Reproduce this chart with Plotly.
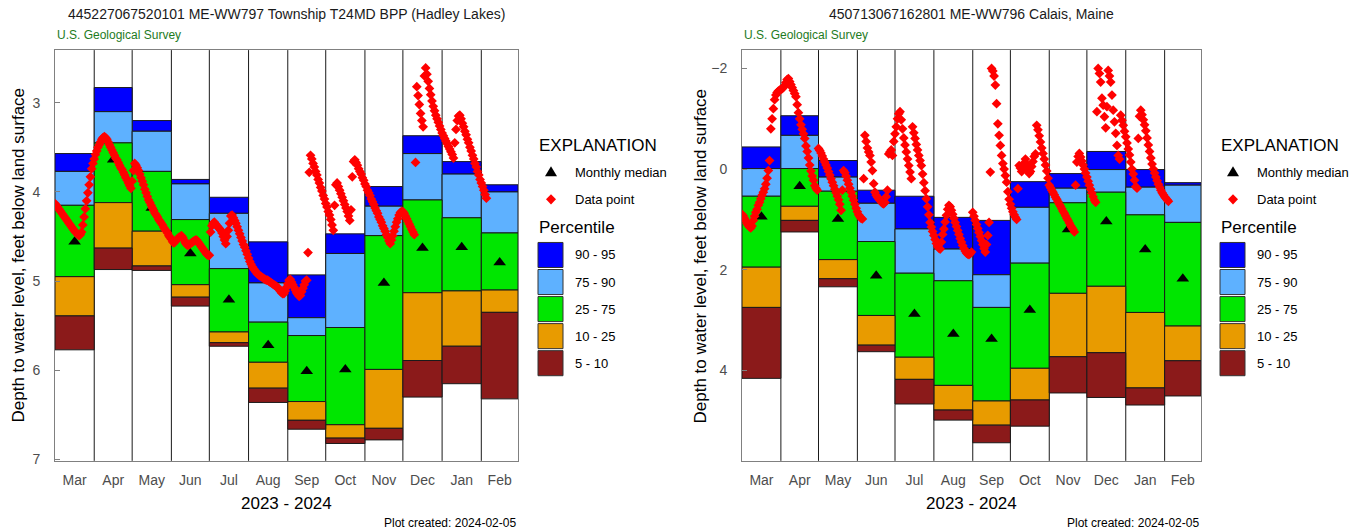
import pandas as pd
import plotly.graph_objects as go

# Reference picture size (all layout positions below are given in its pixels)
REF_W, REF_H = 1356, 531
# Figure size: the window photographed is 539 px tall and squeezed to 531,
# so the figure fills 1356 x 539 and every position is kept as a fraction.
W, H = 1356, 539
FONT = "Liberation Sans, Arial, sans-serif"

# ---------------- shared categories ----------------
month_labels = ["Mar", "Apr", "May", "Jun", "Jul", "Aug", "Sep", "Oct", "Nov", "Dec", "Jan", "Feb"]
month_edges = pd.date_range("2023-03-01", "2024-03-01", freq="MS")  # 13 edges
year_label = "2023 - 2024"
created_label = "Plot created: 2024-02-05"
agency_label = "U.S. Geological Survey"
y_title = "Depth to water level, feet below land surface"

# ---------------- left well ----------------
left_title = "445227067520101 ME-WW797 Township T24MD BPP (Hadley Lakes)"
left_yticks = [3, 4, 5, 6, 7]
left_yrange = [7.015, 2.41]
left_p95 = [3.57, 2.83, 3.20, 3.86, 4.06, 4.56, 4.93, 4.47, 3.94, 3.37, 3.66, 3.92]
left_p90 = [3.77, 3.10, 3.32, 3.91, 4.24, 5.02, 5.41, 4.69, 4.16, 3.57, 3.80, 4.00]
left_p75 = [4.15, 3.45, 3.77, 4.31, 4.86, 5.46, 5.61, 5.52, 4.49, 4.09, 4.29, 4.46]
left_p25 = [4.95, 4.12, 4.44, 5.04, 5.57, 5.91, 6.35, 6.61, 5.99, 5.13, 5.11, 5.10]
left_p10 = [5.39, 4.63, 4.83, 5.18, 5.69, 6.20, 6.56, 6.76, 6.65, 5.89, 5.73, 5.35]
left_p05 = [5.77, 4.87, 4.88, 5.28, 5.73, 6.36, 6.66, 6.82, 6.78, 6.30, 6.15, 6.32]
left_median = [4.56, 3.64, 4.18, 4.69, 5.21, 5.72, 6.01, 5.99, 5.02, 4.63, 4.62, 4.79]
left_daily = [
    # Mar
    4.13, 4.15, 4.17, 4.19, 4.21, 4.23, 4.25, 4.27, 4.29, 4.31, 4.33, 4.35, 4.37, 4.39, 4.41, 4.43,
    4.45, 4.46, 4.48, 4.49, 4.48, 4.45, 4.37, 4.28, 4.19, 4.10, 4.01, 3.92, 3.83, 3.74, 3.68,
    # Apr
    3.63, 3.58, 3.54, 3.50, 3.47, 3.44, 3.41, 3.39, 3.38, 3.39, 3.41, 3.44, 3.47, 3.50, 3.53,
    3.56, 3.59, 3.62, 3.64, 3.67, 3.70, 3.73, 3.75, 3.78, 3.81, 3.84, 3.87, 3.90, 3.93, 3.96,
    # May
    3.88, 3.76, 3.68, 3.70, 3.73, 3.76, 3.80, 3.84, 3.88, 3.92, 3.97, 4.01, 4.05, 4.09, 4.12, 4.15,
    4.18, 4.21, 4.24, 4.26, 4.28, 4.31, 4.33, 4.35, 4.37, 4.40, 4.42, 4.44, 4.46, 4.49, 4.51,
    # Jun
    4.53, 4.56, 4.57, 4.56, 4.54, 4.52, 4.51, 4.50, 4.49, 4.51, 4.54, 4.57, 4.59, 4.60, 4.59,
    4.58, 4.57, 4.56, 4.55, 4.54, 4.54, 4.56, 4.58, 4.60, 4.62, 4.64, 4.66, 4.68, 4.70, 4.71,
    # Jul
    4.71, 4.45, 4.38, 4.35, 4.34, 4.36, 4.38, 4.40, 4.41, 4.43, 4.46, 4.50, 4.54, 4.58, 4.50, 4.43,
    4.35, 4.27, 4.26, 4.29, 4.32, 4.35, 4.39, 4.43, 4.47, 4.51, 4.55, 4.59, 4.62, 4.66, 4.70,
    # Aug
    4.74, 4.78, 4.81, 4.84, 4.86, 4.88, 4.90, 4.92, 4.93, 4.94, 4.95, 4.96, 4.97, 4.98, 4.99, 4.99,
    5.00, 5.01, 5.02, 5.03, 5.04, 5.05, 5.06, 5.07, 5.09, 5.11, 5.13, 5.14, 5.14, 5.11, 5.07,
    # Sep
    5.03, 4.99, 4.98, 5.01, 5.04, 5.07, 5.10, 5.13, 5.15, 5.17, 5.16, 5.12, 5.08, 5.04, 5.00,
    4.99, 4.68, 3.78, 3.59, 3.63, 3.68, 3.72, 3.77, 3.81, 3.86, 3.90, 3.95, 3.99, 4.04, 4.08,
    # Oct
    4.13, 4.17, 4.22, 4.26, 4.31, 4.37, 4.43, 4.15, 3.92, 3.90, 3.94, 3.98, 4.02, 4.06, 4.10, 4.14,
    4.18, 4.22, 4.27, 4.32, 4.20, 3.83, 3.66, 3.64, 3.67, 3.70, 3.74, 3.77, 3.80, 3.84, 3.87,
    # Nov
    3.91, 3.94, 3.98, 4.01, 4.04, 4.08, 4.11, 4.14, 4.18, 4.21, 4.24, 4.28, 4.31, 4.34, 4.38,
    4.41, 4.44, 4.48, 4.51, 4.55, 4.58, 4.54, 4.49, 4.44, 4.39, 4.34, 4.30, 4.26, 4.23, 4.22,
    # Dec
    4.22, 4.24, 4.27, 4.30, 4.33, 4.36, 4.39, 4.42, 4.45, 4.48, 3.67, 2.82, 2.92, 3.02, 3.12, 3.20,
    3.27, 2.70, 2.61, 2.68, 2.76, 2.84, 2.91, 2.98, 3.04, 3.09, 3.14, 3.18, 3.22, 3.26, 3.30,
    # Jan
    3.34, 3.37, 3.40, 3.43, 3.46, 3.49, 3.52, 3.55, 3.58, 3.62, 3.45, 3.30, 3.20, 3.15, 3.14, 3.18,
    3.23, 3.27, 3.32, 3.36, 3.41, 3.45, 3.50, 3.54, 3.59, 3.63, 3.68, 3.72, 3.77, 3.81, 3.86,
    # Feb
    3.90, 3.94, 3.98, 4.03, 4.07,
]

# ---------------- right well ----------------
right_title = "450713067162801 ME-WW796 Calais, Maine"
right_yticks = [-2, 0, 2, 4]
right_yrange = [5.80, -2.365]
right_p95 = [-0.44, -1.06, -0.17, 0.42, 0.54, 0.96, 1.02, 0.25, 0.09, -0.35, 0.01, 0.27]
right_p90 = [-0.01, -0.67, 0.16, 0.68, 1.19, 1.59, 2.10, 0.76, 0.38, 0.01, 0.36, 0.32]
right_p75 = [0.54, -0.01, 0.44, 1.44, 2.07, 2.22, 2.75, 1.87, 0.67, 0.46, 0.91, 1.06]
right_p25 = [1.95, 0.74, 1.80, 2.91, 3.74, 4.30, 4.61, 3.96, 2.47, 2.33, 2.85, 3.12]
right_p10 = [2.75, 1.02, 2.18, 3.50, 4.18, 4.79, 5.09, 4.59, 3.73, 3.65, 4.35, 3.81]
right_p05 = [4.16, 1.25, 2.34, 3.63, 4.67, 4.99, 5.44, 5.11, 4.45, 4.54, 4.69, 4.51]
right_median = [0.95, 0.34, 0.99, 2.12, 2.88, 3.28, 3.38, 2.80, 1.20, 1.04, 1.60, 2.18]
right_daily = [
    # Mar
    0.90, 0.93, 0.98, 1.03, 1.08, 1.12, 1.15, 1.17, 1.13, 1.02, 0.94, 0.86, 0.80, 0.72, 0.66, 0.59,
    0.52, 0.46, 0.39, 0.30, 0.18, 0.03, -0.17, -0.80, -1.00, -1.20, -1.38, -1.47, -1.52, -1.55, -1.57,
    # Apr
    -1.58, -1.60, -1.62, -1.66, -1.72, -1.78, -1.80, -1.74, -1.68, -1.62, -1.56, -1.50, -1.44, -1.28,
    -1.12, -1.00, -0.88, -0.79, -0.70, -0.61, -0.46, -0.35, -0.22, -0.08, 0.04, 0.14, 0.22, 0.33, 0.38, 0.42,
    # May
    -0.41, -0.37, -0.32, -0.26, -0.20, -0.14, -0.08, -0.02, 0.05, 0.12, 0.19, 0.26, 0.33, 0.40, 0.47, 0.54,
    0.61, 0.70, 0.82, 0.42, 0.03, 0.07, 0.14, 0.22, 0.30, 0.38, 0.46, 0.54, 0.62, 0.70, 0.78,
    # Jun
    0.85, 0.91, 0.95, 0.98, 0.99, 0.19, -0.67, -0.55, -0.42, -0.34, -0.27, -0.14, 0.03, 0.29, 0.46,
    0.52, 0.56, 0.59, 0.62, 0.65, 0.68, 0.69, 0.66, 0.55, 0.42, -0.30, -0.34, -0.38, -0.27, -0.55,
    # Jul
    -0.70, -0.84, -1.00, -1.10, -1.14, -0.98, -0.80, -0.62, -0.48, -0.34, -0.20, -0.07, 0.06, 0.19, -0.84,
    -0.72, -0.61, -0.49, -0.38, -0.27, -0.17, -0.07, 0.10, 0.27, 0.43, 0.59, 0.75, 0.91, 1.06, 1.15, 1.24,
    # Aug
    1.32, 1.40, 1.48, 1.54, 1.57, 1.59, 1.45, 1.30, 1.19, 1.05, 0.92, 0.80, 0.72, 0.75, 0.82, 0.90,
    0.98, 1.06, 1.14, 1.22, 1.30, 1.38, 1.45, 1.52, 1.58, 1.63, 1.67, 1.69, 1.70, 1.68, 1.65,
    # Sep
    0.86, 0.94, 1.02, 1.10, 1.18, 1.26, 1.34, 1.42, 1.50, 1.58, 1.65, 1.50, 1.32, 1.06, 0.06,
    -2.00, -1.95, -1.85, -1.67, -1.30, -0.90, -0.67, -0.47, -0.27, -0.11, 0.00, 0.13, 0.26, 0.45, 0.60,
    # Oct
    0.70, 0.78, 0.85, 0.91, 0.96, 1.00, 0.39, -0.07, -0.02, 0.05, 0.00, -0.12, -0.20, -0.10, 0.03, 0.09,
    0.05, -0.05, -0.15, -0.25, -0.30, -0.87, -0.78, -0.66, -0.54, -0.42, -0.31, -0.20, -0.08, 0.04, 0.18,
    # Nov
    0.32, 0.37, 0.42, 0.46, 0.51, 0.56, 0.60, 0.65, 0.70, 0.74, 0.79, 0.84, 0.88, 0.93, 0.98,
    1.02, 1.07, 1.12, 1.16, 1.20, 1.25, 0.32, -0.14, -0.25, -0.31, -0.24, -0.16, -0.08, 0.00, 0.08,
    # Dec
    0.16, 0.24, 0.32, 0.40, 0.48, 0.55, 0.62, 0.66, -1.14, -2.00, -1.90, -1.73, -1.41, -1.27, -1.04, -0.82,
    -1.24, -1.96, -1.85, -1.73, -1.47, -1.17, -0.94, -0.71, -0.47, -0.27, -0.20, -1.07, -0.97, -0.87, -0.75,
    # Jan
    -0.64, -0.52, -0.40, -0.28, -0.14, 0.00, 0.10, 0.22, 0.35, 0.38, -0.61, -1.05, -1.17, -1.08, -0.98, -0.88,
    -0.76, -0.62, -0.48, -0.35, -0.22, -0.10, 0.00, 0.08, 0.16, 0.23, 0.30, 0.36, 0.42, 0.47, 0.51,
    # Feb
    0.55, 0.58, 0.61, 0.64,
]

# ---------------- legend ----------------
legend_title = "EXPLANATION"
legend_median = "Monthly median"
legend_point = "Data point"
legend_pct_title = "Percentile"
band_names = ["90 - 95", "75 - 90", "25 - 75", "10 - 25", "5 - 10"]
band_colors = ["#0000FF", "#5EB1FF", "#00E600", "#E89B00", "#8B1A1A"]

# ---------------- layout geometry (reference pixels) ----------------
PLOT_TOP, PLOT_BOTTOM = 50, 460
panels = [
    dict(xa="x", ya="y", x0=55, x1=518, title=left_title, yticks=left_yticks, yrange=left_yrange,
         pcts=[left_p95, left_p90, left_p75, left_p25, left_p10, left_p05],
         median=left_median, daily=left_daily, ytitle_x=18, legend_x=537),
    dict(xa="x2", ya="y2", x0=742, x1=1201, title=right_title, yticks=right_yticks, yrange=right_yrange,
         pcts=[right_p95, right_p90, right_p75, right_p25, right_p10, right_p05],
         median=right_median, daily=right_daily, ytitle_x=700, legend_x=1219),
]


def fx(px):
    return px / REF_W


def fy(py):
    return 1 - py / REF_H


fig = go.Figure()
shapes = []
annotations = []


def text(px, py, s, size, color="#000000", xanchor="left", angle=0):
    annotations.append(dict(
        x=fx(px), y=fy(py), xref="paper", yref="paper", text=s, showarrow=False,
        xanchor=xanchor, yanchor="middle", textangle=angle,
        font=dict(family=FONT, size=size, color=color),
    ))


starts = list(month_edges[:-1])
widths = [(month_edges[i + 1] - month_edges[i]).total_seconds() * 1000 for i in range(12)]
mids = [month_edges[i] + (month_edges[i + 1] - month_edges[i]) / 2 for i in range(12)]

layout_axes = {}
for i, p in enumerate(panels):
    xa, ya = p["xa"], p["ya"]
    bounds = p["pcts"]
    for k in range(5):
        top, bot = bounds[k], bounds[k + 1]
        fig.add_trace(go.Bar(
            x=starts, y=[b - t for t, b in zip(top, bot)], base=top, width=widths, offset=0,
            marker=dict(color=band_colors[k], line=dict(color="#1a1a1a", width=1)),
            xaxis=xa, yaxis=ya, showlegend=False, hoverinfo="skip",
        ))
    fig.add_trace(go.Scatter(
        x=mids, y=p["median"], mode="markers", xaxis=xa, yaxis=ya, showlegend=False,
        marker=dict(symbol="triangle-up", size=11, color="#000000"),
    ))
    dates = pd.date_range("2023-03-01", periods=len(p["daily"]), freq="D")
    fig.add_trace(go.Scatter(
        x=dates, y=p["daily"], mode="markers", xaxis=xa, yaxis=ya, showlegend=False,
        marker=dict(symbol="diamond", size=7.5, color="#FF0000"),
    ))

    # month separators
    for e in month_edges[1:-1]:
        shapes.append(dict(type="line", xref=xa, yref=ya + " domain", x0=e, x1=e, y0=0, y1=1,
                           line=dict(color="#1a1a1a", width=1), layer="below"))

    xkey = "xaxis" if xa == "x" else "xaxis" + xa[1:]
    ykey = "yaxis" if ya == "y" else "yaxis" + ya[1:]
    layout_axes[xkey] = dict(
        domain=[fx(p["x0"]), fx(p["x1"])], anchor=ya, type="date",
        range=[month_edges[0], month_edges[-1]],
        tickmode="array", tickvals=mids, ticktext=month_labels, ticks="",
        showgrid=False, zeroline=False, showline=True, mirror=True,
        linecolor="#808080", linewidth=1.5, ticklabelstandoff=6,
        tickfont=dict(family=FONT, size=14, color="#4d4d4d"),
    )
    layout_axes[ykey] = dict(
        domain=[fy(PLOT_BOTTOM), fy(PLOT_TOP)], anchor=xa, range=p["yrange"],
        tickmode="array", tickvals=p["yticks"], ticks="inside", ticklen=5, tickcolor="#808080",
        showgrid=False, zeroline=False, showline=True, mirror=True,
        linecolor="#808080", linewidth=1, ticklabelstandoff=11,
        tickfont=dict(family=FONT, size=14, color="#4d4d4d"),
    )

    cx = (p["x0"] + p["x1"]) / 2
    text(cx, 14, p["title"], 14, "#1a1a1a", "center")
    text(p["x0"], 35, agency_label, 12, "#1E7B1E", "left")
    text(cx, 503, year_label, 17, "#000000", "center")
    text(p["x1"], 522, created_label, 12, "#000000", "right")
    text(p["ytitle_x"], (PLOT_TOP + PLOT_BOTTOM) / 2, y_title, 17, "#000000", "center", angle=-90)

    # legend
    lx = p["legend_x"]
    text(lx, 145, legend_title, 17)
    gx = lx + 14
    tri = "M {},{} L {},{} L {},{} Z".format(
        fx(gx - 6), fy(171 + 5), fx(gx + 6), fy(171 + 5), fx(gx), fy(171 - 5))
    shapes.append(dict(type="path", xref="paper", yref="paper", path=tri,
                       fillcolor="#000000", line=dict(width=0)))
    text(lx + 36, 172, legend_median, 13)
    dia = "M {},{} L {},{} L {},{} L {},{} Z".format(
        fx(gx), fy(199 - 5), fx(gx + 5), fy(199), fx(gx), fy(199 + 5), fx(gx - 5), fy(199))
    shapes.append(dict(type="path", xref="paper", yref="paper", path=dia,
                       fillcolor="#FF0000", line=dict(width=0)))
    text(lx + 36, 199, legend_point, 13)
    text(lx, 227, legend_pct_title, 17)
    for k, (nm, col) in enumerate(zip(band_names, band_colors)):
        top = 242 + k * 27
        shapes.append(dict(type="rect", xref="paper", yref="paper",
                           x0=fx(lx + 1), x1=fx(lx + 26), y0=fy(top + 25), y1=fy(top),
                           fillcolor=col, line=dict(color="#333333", width=1)))
        text(lx + 36, top + 12.5, nm, 13)

fig.update_layout(
    width=W, height=H, margin=dict(l=0, r=0, t=0, b=0),
    paper_bgcolor="#FFFFFF", plot_bgcolor="#FFFFFF",
    barmode="overlay", bargap=0, showlegend=False,
    shapes=shapes, annotations=annotations,
    font=dict(family=FONT),
    **layout_axes,
)

# remove the page's default body margin so the figure fills the window exactly
fig.write_html(
    "out.html",
    config={"displayModeBar": False, "staticPlot": True},
    post_script="document.body.style.margin='0px';document.body.style.padding='0px';",
)
